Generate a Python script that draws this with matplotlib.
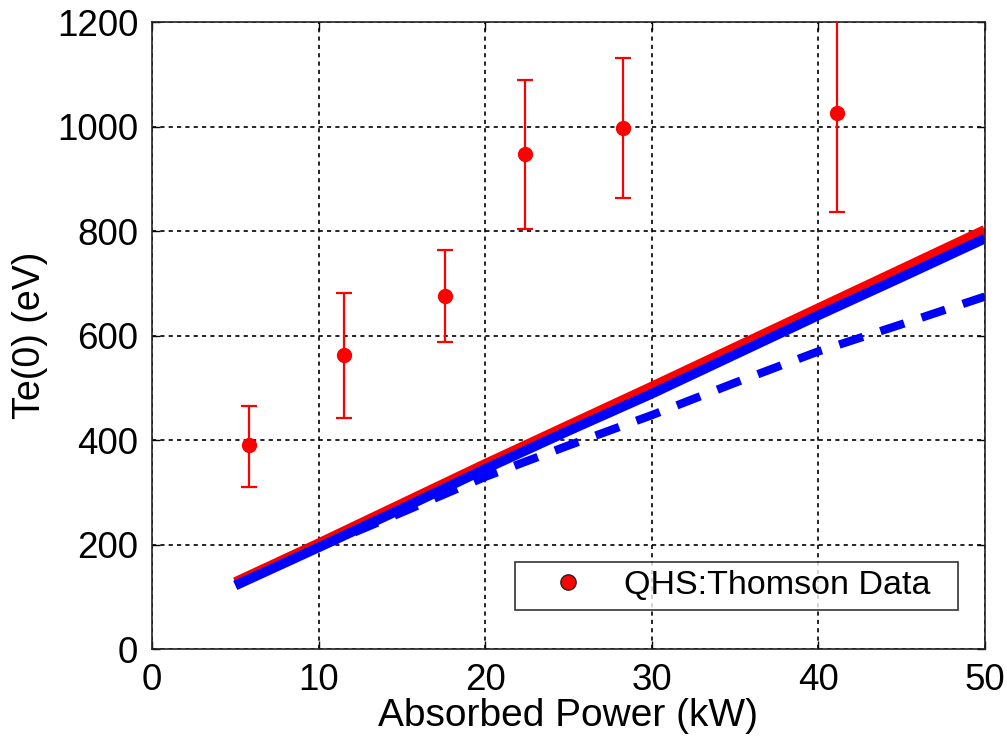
import numpy as np
import matplotlib
matplotlib.use("Agg")
import matplotlib.pyplot as plt

plt.rcParams['font.family'] = ['Liberation Sans', 'DejaVu Sans']

# Thomson data
p_data = [5.8, 11.5, 17.6, 22.4, 28.3, 41.1]
te_data = [390, 564, 677, 948, 998, 1027]
err_lo = [80, 121, 89, 143, 134, 190]
err_hi = [76, 118, 87, 141, 133, 190]

# model curves
p_model = [5, 10, 15, 20, 25, 30, 35, 40, 45, 50]
te_red = [128, 202, 278, 354, 428, 502, 577, 652, 727, 802]
te_blue = [122, 195, 269, 345, 418, 489, 564, 639, 712, 786]
te_dash = [124, 195, 262, 330, 390, 448, 510, 570, 622, 675]

fig = plt.figure(figsize=(10.07, 7.42), dpi=100)
ax = fig.add_axes([0.151, 0.125, 0.827, 0.845])

ax.plot(p_model, te_red, color='#ff0000', lw=7.5, solid_capstyle='butt')
ax.plot(p_model, te_blue, color='#0000ff', lw=7, solid_capstyle='butt')
ax.plot(p_model, te_dash, color='#0000ff', lw=6, ls=(0, (3, 2.2)))

ax.errorbar(p_data, te_data, yerr=[err_lo, err_hi], fmt='o', color='#ff0000',
            ecolor='#ff0000', elinewidth=1.6, capsize=6, capthick=1.6,
            markersize=10, markeredgecolor='#ff0000', zorder=5)
h = ax.plot([], [], 'o', color='#ff0000', markeredgecolor='#222222',
            markersize=11, label='QHS:Thomson Data  ')[0]

ax.set_xlim(0, 50)
ax.set_ylim(0, 1200)
ax.set_xticks(range(0, 51, 10))
ax.set_yticks(range(0, 1201, 200))
ax.grid(True, color='black', ls=(0, (2.5, 2.5)), lw=1.2)
ax.tick_params(direction='in', top=True, right=True, labelsize=26.5, length=6, width=1, pad=10)
for s in ax.spines.values():
    s.set_linewidth(1.2)
    s.set_color('#222222')

ax.set_xlabel('Absorbed Power (kW)', fontsize=28, labelpad=0)
ax.set_ylabel('Te(0) (eV)', fontsize=27, labelpad=6)

leg = ax.legend(handles=[h], loc='lower right', bbox_to_anchor=(0.968, 0.063),
                fontsize=24.5, frameon=True, fancybox=False, borderpad=0.25,
                handlelength=2.6, handletextpad=0.35, borderaxespad=0)
leg.get_frame().set_edgecolor('black')
leg.get_frame().set_linewidth(1.2)

fig.savefig('out.png', dpi=100)
